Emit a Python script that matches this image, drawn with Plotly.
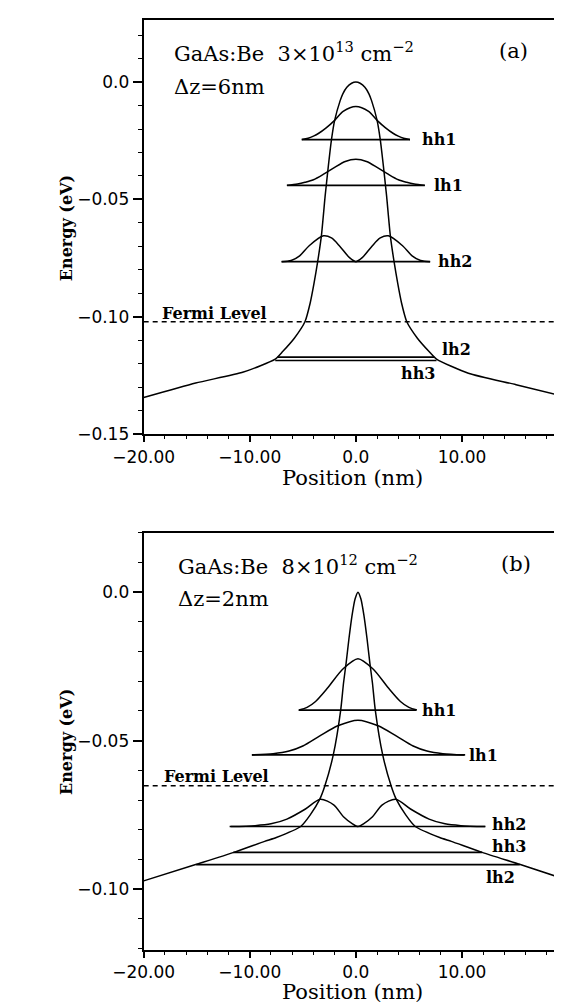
import plotly.graph_objects as go

# ---------------- Panel (a) data ----------------
pot_a_x = [-20, -15.1, -10.6, -7.6, -6.9, -5.8, -4.8, -4.3, -3.95, -3.6, -3.25, -2.9, -2.79, -2.6, -2.3, -2.0, -1.48, -1.23, -0.85, -0.4, 0.0,
           0.4, 0.85, 1.23, 1.48, 2.0, 2.3, 2.6, 2.79, 2.9, 3.25, 3.6, 3.95, 4.3, 4.8, 5.8, 6.9, 7.6, 10.6, 15.1, 20]
pot_a_y = [-0.1344, -0.1282, -0.1235, -0.1180, -0.1148, -0.1091, -0.1021, -0.0940, -0.0859, -0.0765, -0.0655, -0.0487, -0.0440, -0.0360, -0.0245, -0.0163, -0.0079, -0.0050, -0.0022, -0.0005, 0.0,
           -0.0005, -0.0022, -0.0050, -0.0079, -0.0163, -0.0245, -0.0360, -0.0440, -0.0487, -0.0655, -0.0765, -0.0859, -0.0940, -0.1021, -0.1091, -0.1148, -0.1180, -0.1240, -0.1289, -0.1344]

hh1_a_x = [-5.1, -4.5, -4.0, -3.5, -2.8, -2.0, -1.2, 0.0, 1.2, 2.0, 2.8, 3.5, 4.0, 4.5, 5.1]
hh1_a_y = [-0.0245, -0.0239, -0.0230, -0.0218, -0.0195, -0.0163, -0.0125, -0.0104, -0.0125, -0.0163, -0.0195, -0.0218, -0.0230, -0.0239, -0.0245]

lh1_a_x = [-6.5, -5.5, -4.8, -4.0, -3.0, -2.0, -1.0, 0.0, 1.0, 2.0, 3.0, 4.0, 4.8, 5.5, 6.5]
lh1_a_y = [-0.0440, -0.0434, -0.0427, -0.0416, -0.0391, -0.0363, -0.0338, -0.0329, -0.0338, -0.0363, -0.0391, -0.0416, -0.0427, -0.0434, -0.0440]

hh2_a_x = [-7.0, -6.1, -5.3, -4.4, -3.05, -2.3, -1.5, -0.6, 0.0, 0.6, 1.5, 2.3, 3.05, 4.4, 5.3, 6.1, 7.0]
hh2_a_y = [-0.0765, -0.0760, -0.0740, -0.0697, -0.0655, -0.0664, -0.0700, -0.0748, -0.0765, -0.0748, -0.0700, -0.0664, -0.0655, -0.0697, -0.0740, -0.0760, -0.0765]

levels_a_name = ["hh1", "lh1", "hh2", "lh2", "hh3"]
levels_a_e = [-0.0245, -0.0440, -0.0765, -0.1172, -0.1186]
levels_a_x0 = [-5.1, -6.5, -7.0, -7.4, -7.6]
levels_a_x1 = [5.1, 6.5, 7.0, 7.4, 7.6]
labels_a_x = [6.0, 7.2, 7.6, 7.9, 4.1]
labels_a_y = [-0.0245, -0.0440, -0.0765, -0.1141, -0.1242]
fermi_a = -0.1021

# ---------------- Panel (b) data ----------------
pot_b_x = [-20, -15.1, -11.5, -8.6, -7.5, -5.2, -4.3, -3.4, -2.92, -2.13, -1.43, -1.16, -0.92, -0.65, -0.36, -0.07, 0.2,
           0.47, 0.76, 1.05, 1.32, 1.56, 1.83, 2.53, 3.32, 3.8, 4.7, 5.6, 7.9, 9.0, 11.9, 15.5, 20]
pot_b_y = [-0.0972, -0.0917, -0.0876, -0.0839, -0.0826, -0.0789, -0.0750, -0.0697, -0.0652, -0.0548, -0.0397, -0.0305, -0.0239, -0.0156, -0.0078, -0.0022, 0.0,
           -0.0022, -0.0078, -0.0156, -0.0239, -0.0305, -0.0397, -0.0548, -0.0652, -0.0697, -0.0750, -0.0789, -0.0826, -0.0839, -0.0876, -0.0917, -0.0970]

hh1_b_x = [-5.35, -4.6, -3.8, -2.65, -1.2, 0.2, 1.6, 3.05, 4.2, 5.0, 5.75]
hh1_b_y = [-0.0397, -0.0388, -0.0368, -0.0322, -0.0258, -0.0224, -0.0258, -0.0322, -0.0368, -0.0388, -0.0397]

lh1_b_x = [-9.8, -7.8, -6.3, -5.0, -3.4, -1.7, 0.2, 2.1, 3.8, 5.4, 6.7, 8.2, 10.2]
lh1_b_y = [-0.0548, -0.0544, -0.0535, -0.0518, -0.0484, -0.0450, -0.0431, -0.0450, -0.0484, -0.0518, -0.0535, -0.0544, -0.0548]

hh2_b_x = [-11.8, -9.5, -8.0, -6.5, -4.75, -3.35, -2.06, -1.17, -0.35, 0.2, 0.75, 1.57, 2.46, 3.75, 5.15, 6.9, 8.4, 9.9, 12.2]
hh2_b_y = [-0.0789, -0.0786, -0.0780, -0.0764, -0.0730, -0.0697, -0.0717, -0.0756, -0.0779, -0.0789, -0.0779, -0.0756, -0.0717, -0.0697, -0.0730, -0.0764, -0.0780, -0.0786, -0.0789]

levels_b_name = ["hh1", "lh1", "hh2", "hh3", "lh2"]
levels_b_e = [-0.0397, -0.0548, -0.0789, -0.0876, -0.0917]
levels_b_x0 = [-5.4, -9.8, -11.9, -11.55, -15.05]
levels_b_x1 = [5.7, 10.3, 12.2, 11.9, 15.45]
labels_b_x = [6.0, 10.5, 12.6, 12.6, 12.1]
labels_b_y = [-0.0397, -0.0550, -0.0783, -0.0856, -0.0959]
fermi_b = -0.0652

x_ticks = [-20, -10, 0, 10]
x_ticktext = ["\u221220.00", "\u221210.00", "0.0", "10.00"]
ya_ticks = [0.0, -0.05, -0.10, -0.15]
ya_ticktext = ["0.0", "\u22120.05", "\u22120.10", "\u22120.15"]
yb_ticks = [0.0, -0.05, -0.10]
yb_ticktext = ["0.0", "\u22120.05", "\u22120.10"]

W, H = 562, 1002
SERIF = "DejaVu Serif"
SANS = "DejaVu Sans"
LW = 1.5

fig = go.Figure()

def line(x, y, xa, ya, shape="spline", dash=None, smooth=0.8, width=LW):
    d = dict(color="black", width=width, shape=shape)
    if shape == "spline":
        d["smoothing"] = smooth
    if dash:
        d["dash"] = dash
    fig.add_trace(go.Scatter(x=x, y=y, mode="lines", line=d, xaxis=xa, yaxis=ya,
                             showlegend=False, hoverinfo="skip"))

# panel a
line(pot_a_x, pot_a_y, "x", "y", smooth=0.6)
line(hh1_a_x, hh1_a_y, "x", "y")
line(lh1_a_x, lh1_a_y, "x", "y")
line(hh2_a_x, hh2_a_y, "x", "y")
for e, x0, x1 in zip(levels_a_e, levels_a_x0, levels_a_x1):
    line([x0, x1], [e, e], "x", "y", shape="linear", width=1.7)
line([-20, 20], [fermi_a, fermi_a], "x", "y", shape="linear", dash="5px,4px")

# panel b
line(pot_b_x, pot_b_y, "x2", "y2", smooth=0.6)
line(hh1_b_x, hh1_b_y, "x2", "y2")
line(lh1_b_x, lh1_b_y, "x2", "y2")
line(hh2_b_x, hh2_b_y, "x2", "y2")
for e, x0, x1 in zip(levels_b_e, levels_b_x0, levels_b_x1):
    line([x0, x1], [e, e], "x2", "y2", shape="linear", width=1.7)
line([-20, 20], [fermi_b, fermi_b], "x2", "y2", shape="linear", dash="5px,4px")

def px_x(px):
    return px / W

def px_y(py):
    return 1 - py / H

axis_common = dict(showline=True, linecolor="black", linewidth=2, mirror=True,
                   ticks="outside", tickwidth=1.5, tickcolor="black",
                   showgrid=False, zeroline=False,
                   tickfont=dict(family=SANS, size=17, color="black"))
xminor = dict(dtick=2, tick0=-20, ticks="outside", ticklen=3, tickwidth=1.2, tickcolor="black")
yminor = dict(dtick=0.01, tick0=0, ticks="outside", ticklen=4, tickwidth=1.2, tickcolor="black")

fig.update_layout(
    width=W, height=H, margin=dict(l=0, r=0, t=0, b=0),
    paper_bgcolor="white", plot_bgcolor="white",
    xaxis=dict(domain=[px_x(111), px_x(561)], range=[-20, 20], anchor="y",
               tickvals=x_ticks, ticktext=x_ticktext, ticklen=6, minor=xminor, **axis_common),
    yaxis=dict(domain=[px_y(430.5), px_y(12)], range=[-0.15, 0.0265], anchor="x",
               tickvals=ya_ticks, ticktext=ya_ticktext, ticklen=9, minor=yminor, **axis_common),
    xaxis2=dict(domain=[px_x(111), px_x(561)], range=[-20, 20], anchor="y2",
                tickvals=x_ticks, ticktext=x_ticktext, ticklen=6, minor=xminor, **axis_common),
    yaxis2=dict(domain=[px_y(951), px_y(530)], range=[-0.1203, 0.02], anchor="x2",
                tickvals=yb_ticks, ticktext=yb_ticktext, ticklen=9, minor=yminor, **axis_common),
)

ann = []
def text(t, x, y, xref, yref, size=15, bold=False, xanchor="left", yanchor="middle", angle=0, family=SERIF):
    s = f"<b>{t}</b>" if bold else t
    ann.append(dict(text=s, x=x, y=y, xref=xref, yref=yref, showarrow=False,
                    xanchor=xanchor, yanchor=yanchor, textangle=angle,
                    font=dict(family=family, size=size, color="black")))

for name, lx, ly in zip(levels_a_name, labels_a_x, labels_a_y):
    text(name, lx, ly, "x", "y", size=16, bold=True)
for name, lx, ly in zip(levels_b_name, labels_b_x, labels_b_y):
    text(name, lx, ly, "x2", "y2", size=16, bold=True)

text("Fermi Level", -18.5, -0.0986, "x", "y", size=16, bold=True)
text("Fermi Level", -18.3, -0.0622, "x2", "y2", size=16, bold=True)

text("GaAs:Be  3\u00d710<sup>13</sup> cm<sup>\u22122</sup>", -17.3, 0.0128, "x", "y", size=21)
text("(a)", 13.3, 0.0134, "x", "y", size=21)
text("\u0394z=6nm", -17.3, -0.0022, "x", "y", size=21)

text("GaAs:Be  8\u00d710<sup>12</sup> cm<sup>\u22122</sup>", -17.0, 0.0090, "x2", "y2", size=21)
text("(b)", 13.5, 0.0094, "x2", "y2", size=21)
text("\u0394z=2nm", -17.0, -0.0022, "x2", "y2", size=21)

text("Energy (eV)", px_x(29), px_y(222), "paper", "paper", size=16, bold=True, xanchor="center", angle=-90)
text("Energy (eV)", px_x(29), px_y(741), "paper", "paper", size=16, bold=True, xanchor="center", angle=-90)
text("Position (nm)", px_x(332), px_y(475), "paper", "paper", size=21, xanchor="center")
text("Position (nm)", px_x(332), px_y(994), "paper", "paper", size=21, xanchor="center")

fig.update_layout(annotations=ann)
fig.write_html("out.html")
